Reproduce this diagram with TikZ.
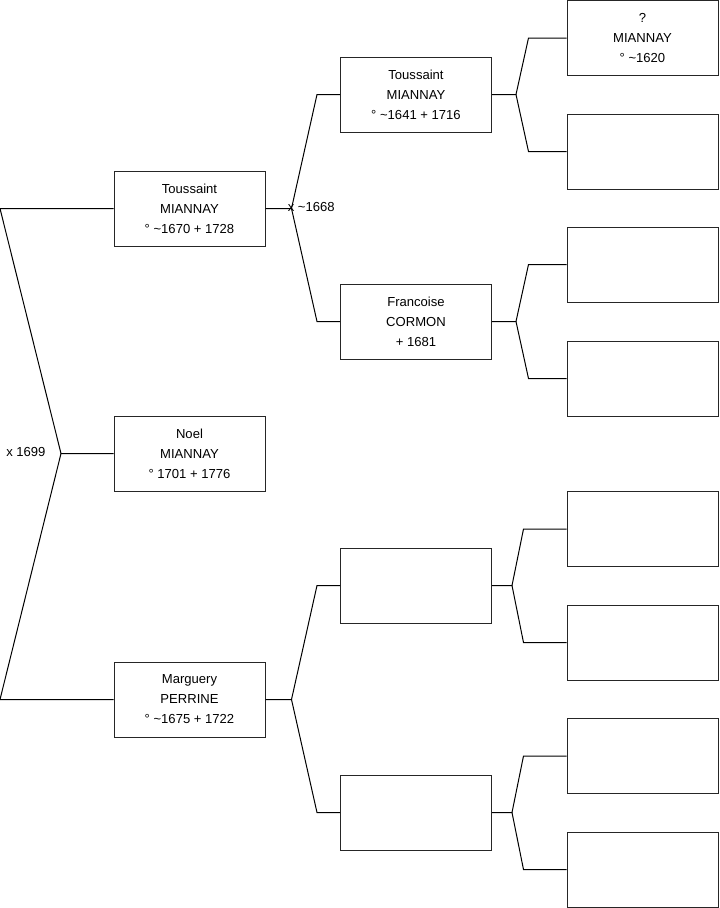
\documentclass[tikz,border=0pt]{standalone}
\usepackage{fontspec}
\setmainfont{Liberation Sans}
\usetikzlibrary{calc}
\newcommand{\abt}{\textasciitilde}

\begin{document}
\begin{tikzpicture}[x=0.75pt,y=-0.75pt,
    person/.style={draw=black!85,line width=0.75pt,minimum width=113.25pt,minimum height=56.25pt,
      inner sep=0pt,align=center,font=\fontsize{9.8}{15}\selectfont},
    link/.style={draw=black,line width=0.75pt},
    wed/.style={inner sep=0pt,anchor=west,font=\fontsize{9.8}{15}\selectfont}]
    \useasboundingbox (0,0) rectangle (719,908);
    \coordinate (o) at (0,0);
    % generation 1 and 2
    \node[person] (p) at (189.5,453.5) {Noel\\MIANNAY\\° 1701 + 1776};
    \node[person] (f) at (189.5,208.5) {Toussaint\\MIANNAY\\° \abt1670 + 1728};
    \node[person] (m) at (189.5,699.5) {Marguery\\PERRINE\\° \abt1675 + 1722};
    % generation 3
    \node[person] (ff) at (416,94.5) {Toussaint\\MIANNAY\\° \abt1641 + 1716};
    \node[person] (fm) at (416,321.5) {Francoise\\CORMON\\+ 1681};
    \node[person] (mf) at (416,585.5) {};
    \node[person] (mm) at (416,812.5) {};
    % generation 4
    \node[person] (fff) at (642.5,38) {?\\MIANNAY\\° \abt1620};
    \node[person] (ffm) at (642.5,151.5) {};
    \node[person] (fmf) at (642.5,264.5) {};
    \node[person] (fmm) at (642.5,378.5) {};
    \node[person] (mff) at (642.5,529) {};
    \node[person] (mfm) at (642.5,642.5) {};
    \node[person] (mmf) at (642.5,756) {};
    \node[person] (mmm) at (642.5,869.5) {};
    % parents of Noel
    \coordinate (jp) at (61,453.5);
    \draw[link] (f.west) -- (f.west -| o) -- (jp) -- (p.west);
    \draw[link] (jp) -- (m.west -| o) -- (m.west);
    \node[wed] (wp) at (6,452) {x 1699};
    % other forks
    \foreach \c/\a/\b/\s/\t in {f/ff/fm/26/23,m/mf/mm/26/23,ff/fff/ffm/24/38,fm/fmf/fmm/24/38,
        mf/mff/mfm/20/43,mm/mmf/mmm/20/43}{
      \draw[link] (\c.east) -- ++(\s,0) coordinate (j\c) -- ($(\a.west)+(-\t,0)$) -- (\a.west);
      \draw[link] (j\c) -- ($(\b.west)+(-\t,0)$) -- (\b.west);
    }
    \node[wed] (wf) at (287.5,207) {x \abt1668};
\end{tikzpicture}
\end{document}
